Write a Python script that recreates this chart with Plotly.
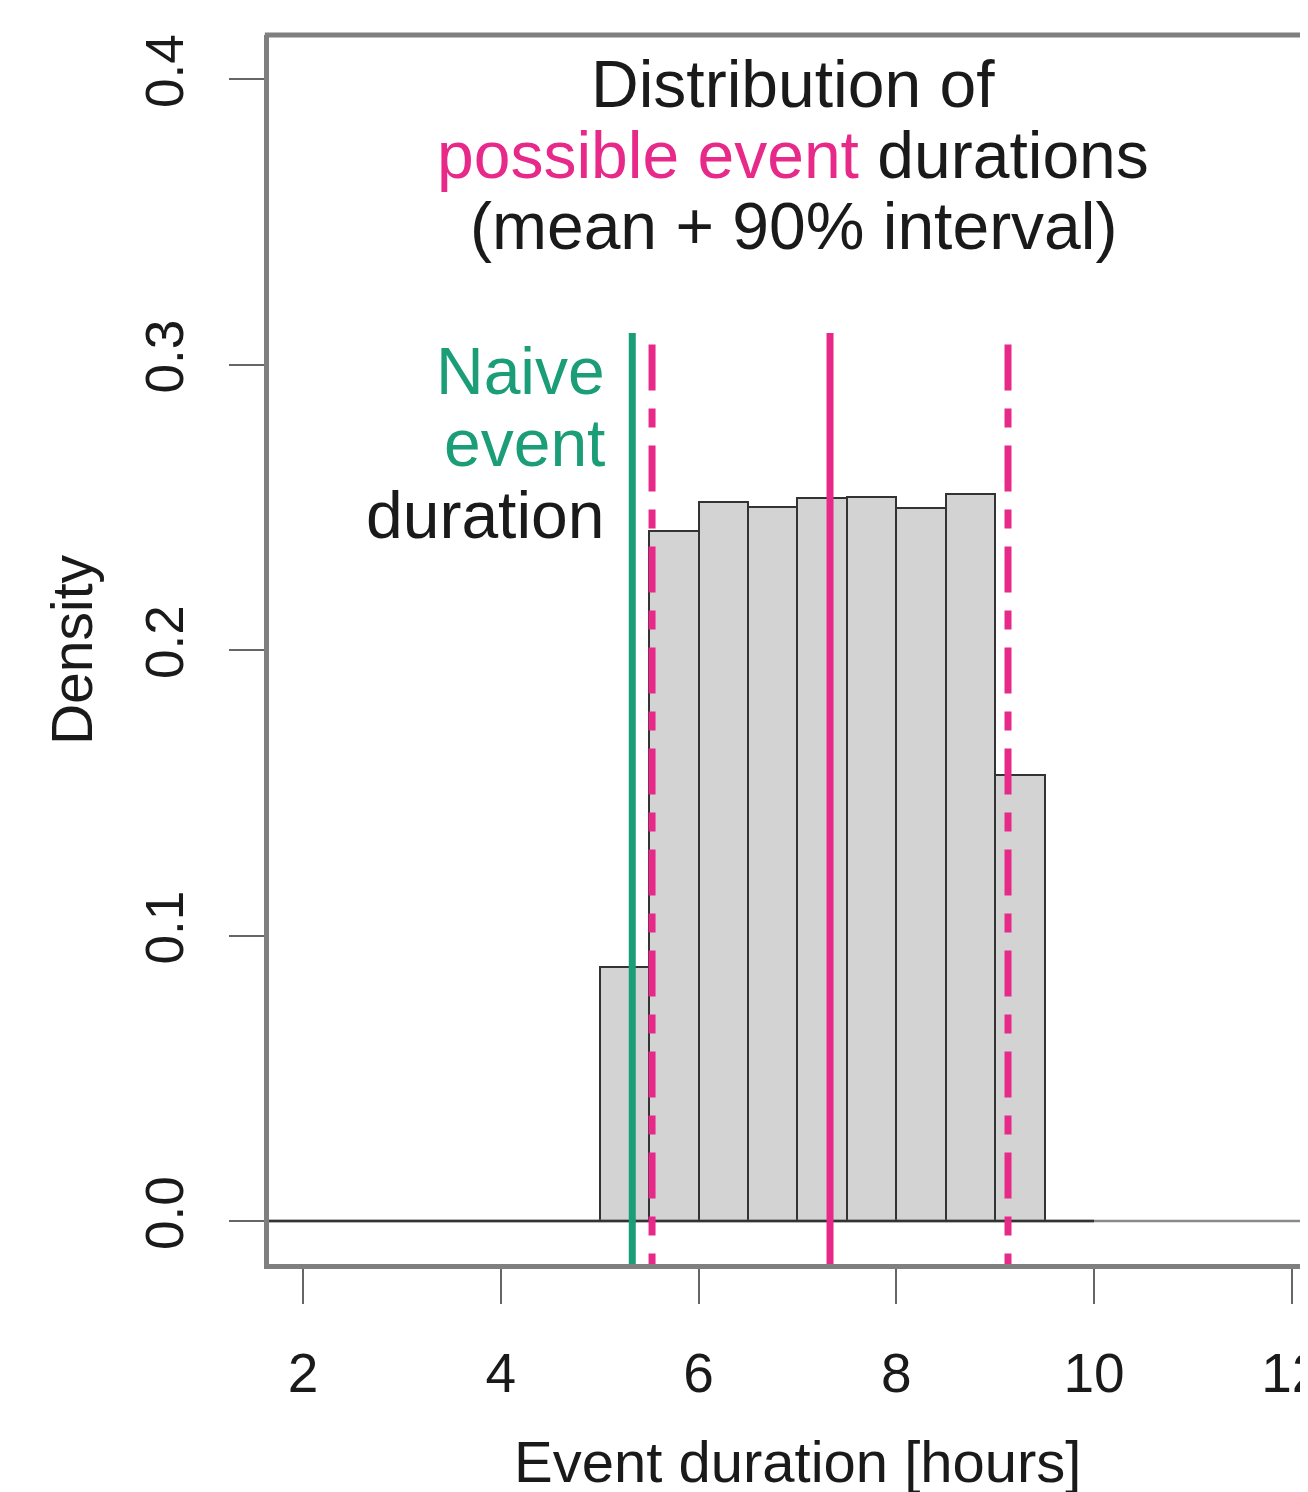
import plotly.graph_objects as go

# ---- data ----
bin_left = [5.0, 5.5, 6.0, 6.5, 7.0, 7.5, 8.0, 8.5, 9.0]
bin_width = 0.5
density = [0.089, 0.2417, 0.2518, 0.2500, 0.2532, 0.2536, 0.2497, 0.2546, 0.1562]

naive_duration = 5.33
mean_duration = 7.33
interval_low = 5.53
interval_high = 9.13
solid_line_top = 0.311
dashed_line_top = 0.307

x_ticks = [2, 4, 6, 8, 10, 12]
y_ticks = [0.0, 0.1, 0.2, 0.3, 0.4]
y_tick_labels = ["0.0", "0.1", "0.2", "0.3", "0.4"]
x_range = [1.656, 12.164]
y_range = [-0.01506, 0.41541]
hist_baseline_end = 10.0

PINK = "#E7298A"
GREEN = "#1B9E77"
BLACK = "#1a1a1a"
FRAME = "#7f7f7f"
FONT = "Liberation Sans, Arial, Helvetica, sans-serif"
DASHDOT = "46px,18px,19px,18px"

centers = [b + bin_width / 2 for b in bin_left]

fig = go.Figure()

# zero line (grey, full width) and histogram baseline (dark)
fig.add_trace(go.Scatter(x=x_range, y=[0, 0], mode="lines",
                         line=dict(color="#8a8a8a", width=2.5), hoverinfo="skip"))
fig.add_trace(go.Scatter(x=[x_range[0], hist_baseline_end], y=[0, 0], mode="lines",
                         line=dict(color="#333333", width=2.5), hoverinfo="skip"))

fig.add_trace(go.Bar(x=centers, y=density, width=bin_width,
                     marker=dict(color="#D3D3D3", line=dict(color="#333333", width=2))))

# vertical lines
fig.add_trace(go.Scatter(x=[naive_duration, naive_duration], y=[solid_line_top, y_range[0]],
                         mode="lines", line=dict(color=GREEN, width=7), hoverinfo="skip"))
fig.add_trace(go.Scatter(x=[interval_low, interval_low], y=[dashed_line_top, y_range[0]],
                         mode="lines", line=dict(color=PINK, width=7, dash=DASHDOT), hoverinfo="skip"))
fig.add_trace(go.Scatter(x=[mean_duration, mean_duration], y=[solid_line_top, y_range[0]],
                         mode="lines", line=dict(color=PINK, width=7), hoverinfo="skip"))
fig.add_trace(go.Scatter(x=[interval_high, interval_high], y=[dashed_line_top, y_range[0]],
                         mode="lines", line=dict(color=PINK, width=7, dash=DASHDOT), hoverinfo="skip"))

annots = []
title_x = 6.96
for txt, yy in [("Distribution of", 0.3982),
                (f"<span style='color:{PINK}'>possible event</span> durations", 0.3734),
                ("(mean + 90% interval)", 0.3485)]:
    annots.append(dict(x=title_x, y=yy, xref="x", yref="y", text=txt, showarrow=False,
                       xanchor="center", yanchor="middle",
                       font=dict(family=FONT, size=66, color=BLACK)))

label_x = 5.07
for txt, yy, col in [("Naive", 0.2977, GREEN), ("event", 0.2725, GREEN), ("duration", 0.2473, BLACK)]:
    annots.append(dict(x=label_x, y=yy, xref="x", yref="y", text=txt, showarrow=False,
                       xanchor="right", yanchor="middle",
                       font=dict(family=FONT, size=66, color=col)))

annots.append(dict(x=6.996, y=-0.161, xref="x", yref="paper", text="Event duration [hours]",
                   showarrow=False, xanchor="center", yanchor="middle",
                   font=dict(family=FONT, size=58, color=BLACK)))
annots.append(dict(x=-0.19, y=0.500, xref="paper", yref="paper", text="Density",
                   showarrow=False, textangle=-90, xanchor="center", yanchor="middle",
                   font=dict(family=FONT, size=57, color=BLACK)))

fig.update_layout(
    width=1300, height=1484,
    margin=dict(l=261, r=0, t=27, b=228, autoexpand=False),
    paper_bgcolor="white", plot_bgcolor="white",
    showlegend=False, bargap=0,
    annotations=annots,
    shapes=[dict(type="line", xref="paper", yref="paper", x0=-0.004, x1=1.01, y0=1, y1=1,
                 line=dict(color=FRAME, width=5))],
)
fig.update_xaxes(range=x_range, tickvals=x_ticks, ticktext=[str(t) for t in x_ticks],
                 showgrid=False, zeroline=False, showline=True, linecolor=FRAME, linewidth=5,
                 ticks="outside", ticklen=35, tickwidth=2, tickcolor="#666666",
                 tickfont=dict(family=FONT, size=55, color=BLACK), ticklabelstandoff=22,
                 ticklabeloverflow="allow", automargin=False)
fig.update_yaxes(range=y_range, tickvals=y_ticks, ticktext=y_tick_labels,
                 showgrid=False, zeroline=False, showline=True, linecolor=FRAME, linewidth=5,
                 ticks="outside", ticklen=35, tickwidth=2, tickcolor="#666666", tickangle=-90,
                 tickfont=dict(family=FONT, size=53, color=BLACK), ticklabelstandoff=25,
                 ticklabeloverflow="allow", automargin=False)

fig.write_html("out.html")
